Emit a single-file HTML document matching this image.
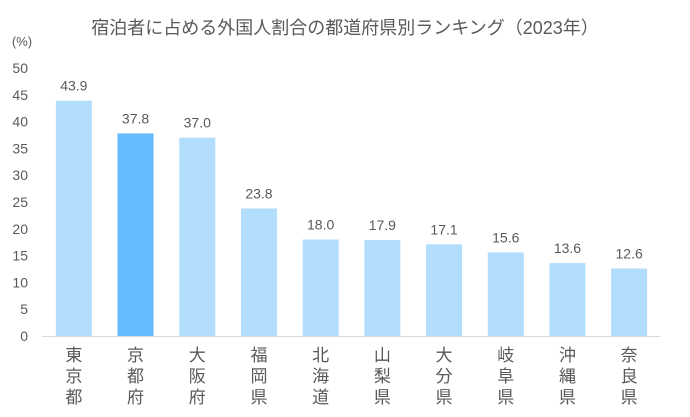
<!DOCTYPE html>
<html><head><meta charset="utf-8"><style>
body{margin:0;background:#fff;}
svg text{font-family:"Liberation Sans","Noto Sans CJK JP",sans-serif;fill:#595959;}
</style></head><body>
<svg width="690" height="412" viewBox="0 0 690 412">
<text x="345" y="34" text-anchor="middle" font-size="18">宿泊者に占める外国人割合の都道府県別ランキング（2023年）</text>
<text x="22" y="46" text-anchor="middle" font-size="13">(%)</text>
<g id="yticks"></g><g id="bars"></g><g id="labels"></g>
<line x1="42" y1="336.5" x2="660" y2="336.5" stroke="#d9d9d9"/>
</svg>
<script>
const categories=["東京都","京都府","大阪府","福岡県","北海道","山梨県","大分県","岐阜県","沖縄県","奈良県"];
const values=[43.9,37.8,37.0,23.8,18.0,17.9,17.1,15.6,13.6,12.6];
const yTicks=[0,5,10,15,20,25,30,35,40,45,50];
const highlight=1;
const ns="http://www.w3.org/2000/svg";
const y0=336,pxPer=5.36,x0=43,step=61.7,bw=36;
const y=v=>y0-v*pxPer;
const xc=i=>x0+step*(i+0.5);
function mk(t,a,p){const e=document.createElementNS(ns,t);for(const k in a)e.setAttribute(k,a[k]);p.appendChild(e);return e;}
const yt=document.getElementById('yticks');
yTicks.forEach(v=>{const t=mk('text',{x:28,y:y(v)+5,'text-anchor':'end','font-size':'14'},yt);t.textContent=v;

});
const bg=document.getElementById('bars'),lg=document.getElementById('labels');
values.forEach((v,i)=>{
const r=mk('rect',{x:xc(i)-bw/2,y:y(v),width:bw,height:v*pxPer,fill:i===highlight?'#66bbff':'#b3ddfd'},bg);


const t=mk('text',{x:xc(i),y:y(v)-10,'text-anchor':'middle','font-size':'14'},lg);t.textContent=v.toFixed(1);


const c=mk('text',{x:xc(i),'text-anchor':'middle','font-size':'17'},lg);


[...categories[i]].forEach((ch,j)=>{const s=mk('tspan',{x:xc(i),y:361+j*21},c);s.textContent=ch;});
});
</script>
</body></html>
